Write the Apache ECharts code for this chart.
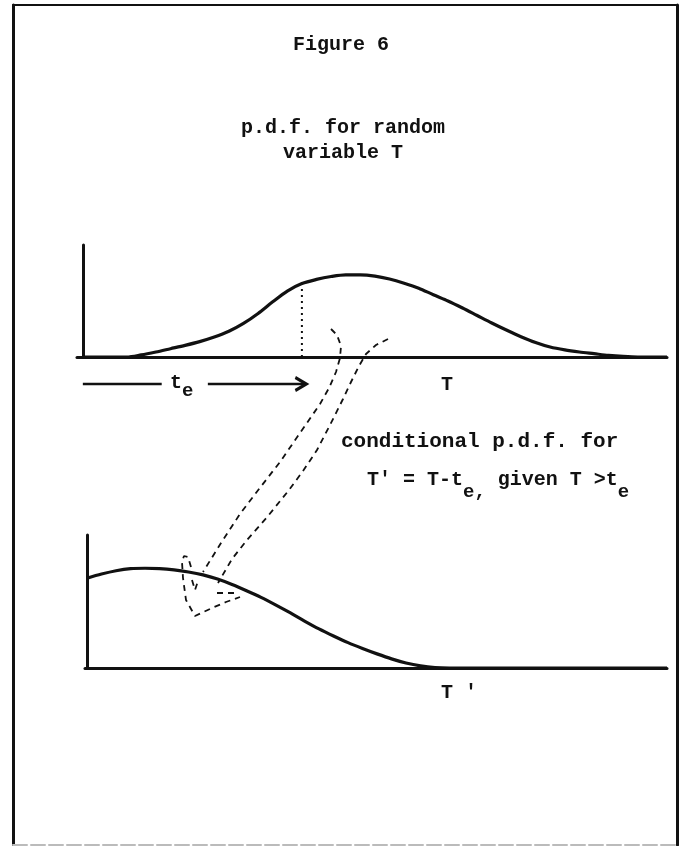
<!DOCTYPE html>
<html>
<head>
<meta charset="utf-8">
<script src="https://cdn.jsdelivr.net/npm/echarts@6/dist/echarts.min.js"></script>
<style>
  html, body { margin: 0; padding: 0; background: #fff; }
  #chart { width: 681px; height: 846px; }
</style>
</head>
<body>
<div id="chart"></div>
<script>
// p.d.f. of the random variable T, sampled along the T axis
const tValues = [0, 0.75, 1.0, 1.25, 1.5, 1.75, 2.0, 2.25, 2.5, 2.75, 3.0, 3.25, 3.5, 3.75, 4.0, 4.25, 4.5, 4.75, 5.0, 5.25, 5.5, 5.75, 6.0, 6.25, 6.5, 6.75, 7.0, 7.25, 7.5, 7.75, 8.0, 8.25, 8.5, 8.75, 9.0, 9.25, 9.5, 10];
const pdfT    = [0, 0, 0.025, 0.06, 0.1, 0.14, 0.185, 0.24, 0.31, 0.405, 0.525, 0.665, 0.795, 0.885, 0.935, 0.97, 0.99, 0.99, 0.975, 0.94, 0.89, 0.83, 0.75, 0.675, 0.59, 0.5, 0.41, 0.325, 0.245, 0.175, 0.12, 0.085, 0.06, 0.04, 0.02, 0.007, 0, 0];

// elapsed time t_e
const te = 3.75;

// conditional p.d.f. of T' = T - t_e given T > t_e
const tPrime  = [0, 0.25, 0.5, 0.75, 1.0, 1.25, 1.5, 1.75, 2.0, 2.25, 2.5, 2.75, 3.0, 3.25, 3.5, 3.75, 4.0, 4.25, 4.5, 4.75, 5.0, 5.25, 5.5, 5.75, 6.0, 6.25, 10];
const pdfCond = [1.08, 1.13, 1.17, 1.195, 1.2, 1.195, 1.18, 1.155, 1.12, 1.07, 1.005, 0.93, 0.85, 0.76, 0.665, 0.565, 0.47, 0.385, 0.305, 0.235, 0.17, 0.11, 0.06, 0.025, 0.005, 0, 0];

// hand-drawn dashed arrows carrying the tail of the curve down to the lower plot (page units)
const strokeOuter = [[331,329],[337,335],[341,346],[340,358],[336,372],[329,388],[320,404],[300,433],[280,462],[259,489],[240,514],[221,543],[203,572]];
const strokeInner = [[388,339],[376,345],[366,354],[359,366],[351,382],[343,399],[330,425],[317,450],[303,471],[289,490],[268,516],[247,540],[232,559],[218,583]];
const strokeHook  = [[191,567],[188,557],[184,556],[182,562],[183,578],[186,600],[195,616],[212,608],[226,602],[240,597]];
const strokeTick  = [[192,580],[195,590],[198,581]];
const strokeDash  = [[217,593],[237,593]];

const zip = (xs, ys) => xs.map((x, i) => [x, ys[i]]);
const teHeight = pdfT[tValues.indexOf(te)];

const INK = '#111';
const FONT = '"Liberation Mono", "DejaVu Sans Mono", monospace';
const arrowRow = -0.325;   // vertical offset of the t_e arrow, below the T axis

const plainAxisLine = { show: true, onZero: true, lineStyle: { color: INK, width: 3 } };

function axisPair(xmin, ymax) {
  return {
    x: { type: 'value', min: xmin, max: 10, axisLine: plainAxisLine, axisTick: { show: false }, axisLabel: { show: false }, splitLine: { show: false } },
    y: { type: 'value', min: 0, max: ymax, axisLine: plainAxisLine, axisTick: { show: false }, axisLabel: { show: false }, splitLine: { show: false } }
  };
}
const topAxes = axisPair(-0.1, 1.35);
const botAxes = axisPair(-0.035, 1.6);

const frameAxis = (extra, color, width, type) => Object.assign({
  gridIndex: 2, type: 'value',
  axisLine: { show: true, onZero: false, lineStyle: { color: color, width: width, type: type || 'solid' } },
  axisTick: { show: false }, axisLabel: { show: false }, splitLine: { show: false }
}, extra);

const dashed = (data) => ({
  type: 'line', xAxisIndex: 2, yAxisIndex: 2, data: data, symbol: 'none', silent: true,
  lineStyle: { color: INK, width: 1.8, type: [6, 5] }, z: 3
});

const textStyleOf = (size) => ({ fontFamily: FONT, fontSize: size, fontWeight: 'bold', lineHeight: 20, verticalAlign: 'top', color: INK });
const main = textStyleOf(20);
const sub = (pad) => Object.assign(textStyleOf(19), { padding: [pad, 0, 0, 0] });

function label(x, y, text, align, rich, size) {
  return {
    type: 'text', x: x, y: y, silent: true,
    style: { text: text, align: align || 'left', verticalAlign: 'top', font: 'bold ' + (size || 20) + 'px ' + FONT, fill: INK, rich: rich || { m: textStyleOf(size || 20) } }
  };
}

const option = {
  backgroundColor: '#fff',
  animation: false,
  grid: [
    { left: 77, width: 590, top: 245, height: 112 },
    { left: 85, width: 582, top: 535, height: 133 },
    { left: 13, width: 664, top: 5, height: 840 }
  ],
  xAxis: [
    Object.assign({ gridIndex: 0 }, topAxes.x),
    Object.assign({ gridIndex: 1 }, botAxes.x),
    frameAxis({ min: 13, max: 677, position: 'top' }, INK, 2),
    frameAxis({ min: 13, max: 677, position: 'bottom' }, '#bbb', 2, [14, 4])
  ],
  yAxis: [
    Object.assign({ gridIndex: 0 }, topAxes.y),
    Object.assign({ gridIndex: 1 }, botAxes.y),
    frameAxis({ min: 5, max: 845, inverse: true, position: 'left' }, INK, 3),
    frameAxis({ min: 5, max: 845, inverse: true, position: 'right' }, INK, 3)
  ],
  series: [
    { type: 'line', xAxisIndex: 0, yAxisIndex: 0, data: zip(tValues, pdfT), smooth: 0.3, symbol: 'none', silent: true,
      lineStyle: { color: INK, width: 3.2 }, z: 4 },
    { type: 'line', xAxisIndex: 0, yAxisIndex: 0, data: [[te, 0], [te, teHeight]], symbol: 'none', silent: true,
      lineStyle: { color: INK, width: 2, type: [2, 4] }, z: 3 },
    { type: 'line', xAxisIndex: 0, yAxisIndex: 0, clip: false, symbol: 'none', silent: true,
      data: [[0, arrowRow], [1.35, arrowRow]], lineStyle: { color: INK, width: 2.6 } },
    { type: 'line', xAxisIndex: 0, yAxisIndex: 0, clip: false, silent: true, symbol: 'none', showSymbol: true,
      data: [[2.14, arrowRow], { value: [te + 0.05, arrowRow], symbol: 'path://M0,0L12,6L0,12', symbolSize: [11, 13], symbolOffset: [-4, 0],
        itemStyle: { color: 'none', borderColor: INK, borderWidth: 3 } }],
      lineStyle: { color: INK, width: 2.6 } },
    { type: 'line', xAxisIndex: 1, yAxisIndex: 1, data: zip(tPrime, pdfCond), smooth: 0.3, symbol: 'none', silent: true,
      lineStyle: { color: INK, width: 3.2 }, z: 4 },
    dashed(strokeOuter),
    dashed(strokeInner),
    dashed(strokeHook),
    dashed(strokeTick),
    dashed(strokeDash)
  ],
  graphic: [
    label(341, 35, 'Figure 6', 'center'),
    label(343, 118, 'p.d.f. for random', 'center'),
    label(343, 143, 'variable T', 'center'),
    label(170, 373, '{m|t}{s|e}', 'left', { m: main, s: sub(9) }),
    label(447, 375, 'T', 'center'),
    label(341, 431, 'conditional p.d.f. for', 'left', null, 21),
    label(367, 470, '{m|T\u2032 = T-t}{s|e,}{m| given T >t}{s|e}', 'left', { m: main, s: sub(13) }),
    label(441, 683, '{m|T}{m| \u2032}', 'left')
  ]
};

const chart = echarts.init(document.getElementById('chart'), null, { renderer: 'canvas' });
chart.setOption(option);
</script>
</body>
</html>
